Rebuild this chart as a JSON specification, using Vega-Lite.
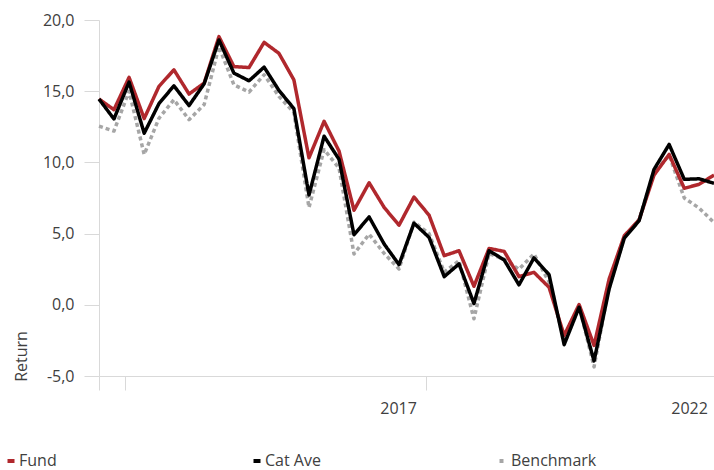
{
  "$schema": "https://vega.github.io/schema/vega-lite/v6.json",
  "width": 615,
  "height": 356,
  "autosize": {"type": "none"},
  "padding": {"left": 99, "top": 20, "right": 0, "bottom": 94},
  "config": {
    "view": {"stroke": null},
    "font": "Open Sans",
    "axis": {"grid": false, "domainColor": "#d9d9d9", "tickColor": "#d9d9d9", "labelColor": "#404040", "labelFontSize": 16, "labelFont": "Open Sans"},
    "legend": {"labelFont": "Open Sans"}
  },
  "data": {
    "values": [
      {"date": "2012-03-31", "Fund": 14.45, "Cat Ave": 14.45, "Benchmark": 12.55},
      {"date": "2012-06-30", "Fund": 13.7, "Cat Ave": 13.05, "Benchmark": 12.2},
      {"date": "2012-09-30", "Fund": 15.97, "Cat Ave": 15.64, "Benchmark": 15.0},
      {"date": "2012-12-31", "Fund": 13.08, "Cat Ave": 12.05, "Benchmark": 10.56},
      {"date": "2013-03-31", "Fund": 15.34, "Cat Ave": 14.13, "Benchmark": 13.1},
      {"date": "2013-06-30", "Fund": 16.5, "Cat Ave": 15.38, "Benchmark": 14.4},
      {"date": "2013-09-30", "Fund": 14.8, "Cat Ave": 13.99, "Benchmark": 13.0},
      {"date": "2013-12-31", "Fund": 15.57, "Cat Ave": 15.52, "Benchmark": 14.06},
      {"date": "2014-03-31", "Fund": 18.83, "Cat Ave": 18.6, "Benchmark": 18.13},
      {"date": "2014-06-30", "Fund": 16.73, "Cat Ave": 16.27, "Benchmark": 15.45},
      {"date": "2014-09-30", "Fund": 16.66, "Cat Ave": 15.73, "Benchmark": 14.94},
      {"date": "2014-12-31", "Fund": 18.43, "Cat Ave": 16.69, "Benchmark": 16.15},
      {"date": "2015-03-31", "Fund": 17.66, "Cat Ave": 15.06, "Benchmark": 14.64},
      {"date": "2015-06-30", "Fund": 15.8, "Cat Ave": 13.78, "Benchmark": 13.5},
      {"date": "2015-09-30", "Fund": 10.32, "Cat Ave": 7.71, "Benchmark": 6.83},
      {"date": "2015-12-31", "Fund": 12.89, "Cat Ave": 11.84, "Benchmark": 10.9},
      {"date": "2016-03-31", "Fund": 10.79, "Cat Ave": 10.21, "Benchmark": 9.6},
      {"date": "2016-06-30", "Fund": 6.64, "Cat Ave": 4.92, "Benchmark": 3.57},
      {"date": "2016-09-30", "Fund": 8.57, "Cat Ave": 6.17, "Benchmark": 4.96},
      {"date": "2016-12-31", "Fund": 6.83, "Cat Ave": 4.26, "Benchmark": 3.6},
      {"date": "2017-03-31", "Fund": 5.59, "Cat Ave": 2.82, "Benchmark": 2.52},
      {"date": "2017-06-30", "Fund": 7.57, "Cat Ave": 5.73, "Benchmark": 5.8},
      {"date": "2017-09-30", "Fund": 6.29, "Cat Ave": 4.73, "Benchmark": 5.0},
      {"date": "2017-12-31", "Fund": 3.45, "Cat Ave": 1.98, "Benchmark": 2.3},
      {"date": "2018-03-31", "Fund": 3.8, "Cat Ave": 2.87, "Benchmark": 3.1},
      {"date": "2018-06-30", "Fund": 1.3, "Cat Ave": 0.09, "Benchmark": -0.98},
      {"date": "2018-09-30", "Fund": 3.96, "Cat Ave": 3.8, "Benchmark": 3.6},
      {"date": "2018-12-31", "Fund": 3.75, "Cat Ave": 3.15, "Benchmark": 3.2},
      {"date": "2019-03-31", "Fund": 1.98, "Cat Ave": 1.4, "Benchmark": 2.5},
      {"date": "2019-06-30", "Fund": 2.28, "Cat Ave": 3.29, "Benchmark": 3.57},
      {"date": "2019-09-30", "Fund": 1.23, "Cat Ave": 2.12, "Benchmark": 1.6},
      {"date": "2019-12-31", "Fund": -2.15, "Cat Ave": -2.8, "Benchmark": -2.5},
      {"date": "2020-03-31", "Fund": 0.02, "Cat Ave": -0.17, "Benchmark": -0.1},
      {"date": "2020-06-30", "Fund": -2.85, "Cat Ave": -3.94, "Benchmark": -4.36},
      {"date": "2020-09-30", "Fund": 1.82, "Cat Ave": 1.12, "Benchmark": 1.3},
      {"date": "2020-12-31", "Fund": 4.85, "Cat Ave": 4.68, "Benchmark": 4.7},
      {"date": "2021-03-31", "Fund": 5.96, "Cat Ave": 5.9, "Benchmark": 6.0},
      {"date": "2021-06-30", "Fund": 9.11, "Cat Ave": 9.51, "Benchmark": 9.3},
      {"date": "2021-09-30", "Fund": 10.56, "Cat Ave": 11.26, "Benchmark": 10.5},
      {"date": "2021-12-31", "Fund": 8.18, "Cat Ave": 8.81, "Benchmark": 7.5},
      {"date": "2022-03-31", "Fund": 8.46, "Cat Ave": 8.85, "Benchmark": 6.8},
      {"date": "2022-06-30", "Fund": 9.11, "Cat Ave": 8.53, "Benchmark": 5.78}
    ]
  },
  "transform": [{"fold": ["Benchmark", "Fund", "Cat Ave"], "as": ["series", "value"]}],
  "layer": [
    {
      "mark": {"type": "line", "strokeWidth": 3.5, "strokeJoin": "round", "strokeCap": "butt"},
      "encoding": {
        "x": {
          "field": "date", "type": "temporal",
          "scale": {"domain": [{"year": 2012, "month": 3, "date": 31, "utc": true}, {"year": 2022, "month": 6, "date": 30, "utc": true}], "nice": false},
          "axis": {
            "orient": "bottom", "title": null, "labels": false, "tickSize": 14, "grid": false,
            "values": [{"year": 2012, "month": 3, "date": 31, "utc": true}, {"year": 2012, "month": 9, "date": 3, "utc": true}, {"year": 2017, "month": 9, "date": 11, "utc": true}]
          }
        },
        "y": {
          "field": "value", "type": "quantitative",
          "scale": {"domain": [-5, 20], "nice": false, "zero": false},
          "axis": {
            "values": [-5, 0, 5, 10, 15, 20], "tickSize": 15, "labelPadding": 10,
            "labelExpr": "(datum.value < 0 ? '-' : '') + replace(format(abs(datum.value), '.1f'), '.', ',')",
            "title": "Return", "titleFontSize": 16, "titleFontWeight": "normal", "titleColor": "#404040", "titleFont": "Open Sans",
            "titleAngle": 270, "titleX": -78, "titleY": 336, "titleAlign": "center", "titleBaseline": "middle"
          }
        },
        "color": {
          "field": "series", "type": "nominal",
          "scale": {"domain": ["Fund", "Cat Ave", "Benchmark"], "range": ["#b0282d", "#000000", "#a6a6a6"]},
          "legend": {"title": null, "orient": "none", "legendX": -96, "legendY": 433, "direction": "horizontal", "labelFontSize": 16, "labelColor": "#404040", "symbolType": "stroke", "symbolSize": 49, "symbolStrokeWidth": 4, "gridAlign": "all", "columnPadding": 140, "labelOffset": 0}
        },
        "strokeDash": {
          "field": "series", "type": "nominal",
          "scale": {"domain": ["Fund", "Cat Ave", "Benchmark"], "range": [[1, 0], [1, 0], [4, 3]]},
          "legend": {"title": null, "orient": "none", "legendX": -96, "legendY": 433, "direction": "horizontal", "labelFontSize": 16, "labelColor": "#404040", "symbolType": "stroke", "symbolSize": 49, "symbolStrokeWidth": 4, "gridAlign": "all", "columnPadding": 140, "labelOffset": 0}
        }
      }
    },
    {
      "mark": {"type": "point", "opacity": 0},
      "encoding": {
        "x": {
          "field": "date", "type": "temporal",
          "axis": {
            "orient": "bottom", "title": null, "ticks": false, "tickSize": 0, "domain": false, "grid": false,
            "labelPadding": 24, "labelFlush": false,
            "labelExpr": "utcFormat(datum.value, '%Y')",
            "values": [{"year": 2017, "month": 3, "date": 25, "utc": true}, {"year": 2022, "month": 1, "date": 29, "utc": true}]
          }
        },
        "y": {"field": "value", "type": "quantitative"}
      }
    }
  ],
  "resolve": {"axis": {"x": "independent"}}
}
